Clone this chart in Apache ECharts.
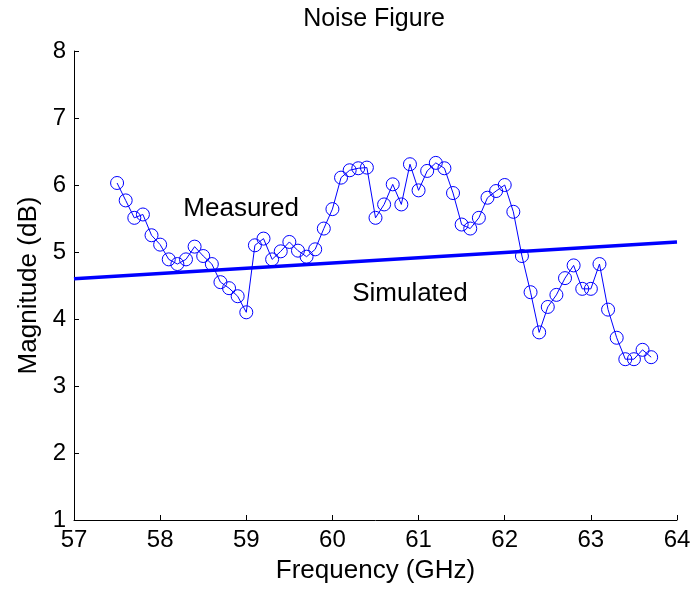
<!DOCTYPE html>
<html>
<head>
<meta charset="utf-8">
<script src="https://cdn.jsdelivr.net/npm/echarts@6/dist/echarts.min.js"></script>
<style>
  html, body { margin: 0; padding: 0; background: #fff; }
  #chart { width: 695px; height: 589px; }
</style>
</head>
<body>
<div id="chart"></div>
<script>
// Frequency sweep (GHz) of the measured noise figure
const frequency = [
  57.5, 57.6, 57.7, 57.8, 57.9, 58.0, 58.1, 58.2, 58.3, 58.4,
  58.5, 58.6, 58.7, 58.8, 58.9, 59.0, 59.1, 59.2, 59.3, 59.4,
  59.5, 59.6, 59.7, 59.8, 59.9, 60.0, 60.1, 60.2, 60.3, 60.4,
  60.5, 60.6, 60.7, 60.8, 60.9, 61.0, 61.1, 61.2, 61.3, 61.4,
  61.5, 61.6, 61.7, 61.8, 61.9, 62.0, 62.1, 62.2, 62.3, 62.4,
  62.5, 62.6, 62.7, 62.8, 62.9, 63.0, 63.1, 63.2, 63.3, 63.4,
  63.5, 63.6, 63.7
];
// Measured noise figure (dB)
const measured = [
  6.03, 5.77, 5.51, 5.56, 5.25, 5.11, 4.89, 4.82, 4.89, 5.08,
  4.94, 4.82, 4.55, 4.46, 4.34, 4.10, 5.10, 5.20, 4.89, 5.01,
  5.15, 5.02, 4.93, 5.04, 5.35, 5.64, 6.11, 6.22, 6.25, 6.26,
  5.51, 5.71, 6.01, 5.71, 6.31, 5.92, 6.21, 6.33, 6.25, 5.88,
  5.41, 5.35, 5.51, 5.81, 5.91, 6.00, 5.60, 4.94, 4.40, 3.80,
  4.18, 4.36, 4.61, 4.80, 4.45, 4.45, 4.82, 4.14, 3.72, 3.40,
  3.40, 3.54, 3.43
];
// Simulated noise figure (dB), linear across the band
const simFrequency = [57, 64];
const simulated = [4.60, 5.15];

// Axis ticks
const xTicks = [57, 58, 59, 60, 61, 62, 63, 64];
const yTicks = [1, 2, 3, 4, 5, 6, 7, 8];

// Curve annotations: [frequency, dB, text]
const curveLabels = [
  [58.94, 5.65, 'Measured'],
  [60.90, 4.38, 'Simulated']
];

const FONT = '"Liberation Sans", Arial, sans-serif';
const BLUE = '#0000ff';

const chart = echarts.init(document.getElementById('chart'), null, { renderer: 'canvas' });

const axisCommon = {
  axisLine: { show: true, onZero: false, lineStyle: { color: '#000', width: 1 } },
  axisTick: { show: true, inside: true, length: 5, lineStyle: { color: '#000' } },
  splitLine: { show: false },
  axisLabel: { color: '#000', fontSize: 24, fontFamily: FONT, margin: 8 },
  nameTextStyle: { color: '#000', fontSize: 26, fontFamily: FONT }
};

chart.setOption({
  animation: false,
  backgroundColor: '#fff',
  title: {
    text: 'Noise Figure',
    left: 369,
    textAlign: 'center',
    top: 2,
    textStyle: { color: '#000', fontSize: 25, fontWeight: 'normal', fontFamily: FONT }
  },
  grid: { left: 74, top: 51, right: 18, bottom: 65 },
  xAxis: Object.assign({}, axisCommon, {
    type: 'value',
    min: xTicks[0],
    max: xTicks[xTicks.length - 1],
    interval: 1,
    name: 'Frequency (GHz)',
    nameLocation: 'middle',
    nameGap: 38
  }),
  yAxis: Object.assign({}, axisCommon, {
    type: 'value',
    min: yTicks[0],
    max: yTicks[yTicks.length - 1],
    interval: 1,
    name: 'Magnitude (dB)',
    nameLocation: 'middle',
    nameGap: 29
  }),
  series: [
    {
      name: 'Simulated',
      type: 'line',
      data: simFrequency.map((f, i) => [f, simulated[i]]),
      showSymbol: false,
      lineStyle: { color: BLUE, width: 3.5 },
      z: 2
    },
    {
      name: 'Measured',
      type: 'line',
      data: frequency.map((f, i) => [f, measured[i]]),
      symbol: 'circle',
      symbolSize: 13,
      itemStyle: { color: 'rgba(0,0,0,0)', borderColor: BLUE, borderWidth: 1 },
      lineStyle: { color: BLUE, width: 1 },
      z: 3,
      markPoint: {
        symbol: 'circle',
        symbolSize: 0,
        silent: true,
        itemStyle: { color: 'rgba(0,0,0,0)' },
        data: curveLabels.map(c => ({
          coord: [c[0], c[1]],
          label: {
            show: true,
            position: 'inside',
            formatter: c[2],
            color: '#000',
            fontSize: 26,
            fontFamily: FONT
          }
        }))
      }
    }
  ]
});
</script>
</body>
</html>
